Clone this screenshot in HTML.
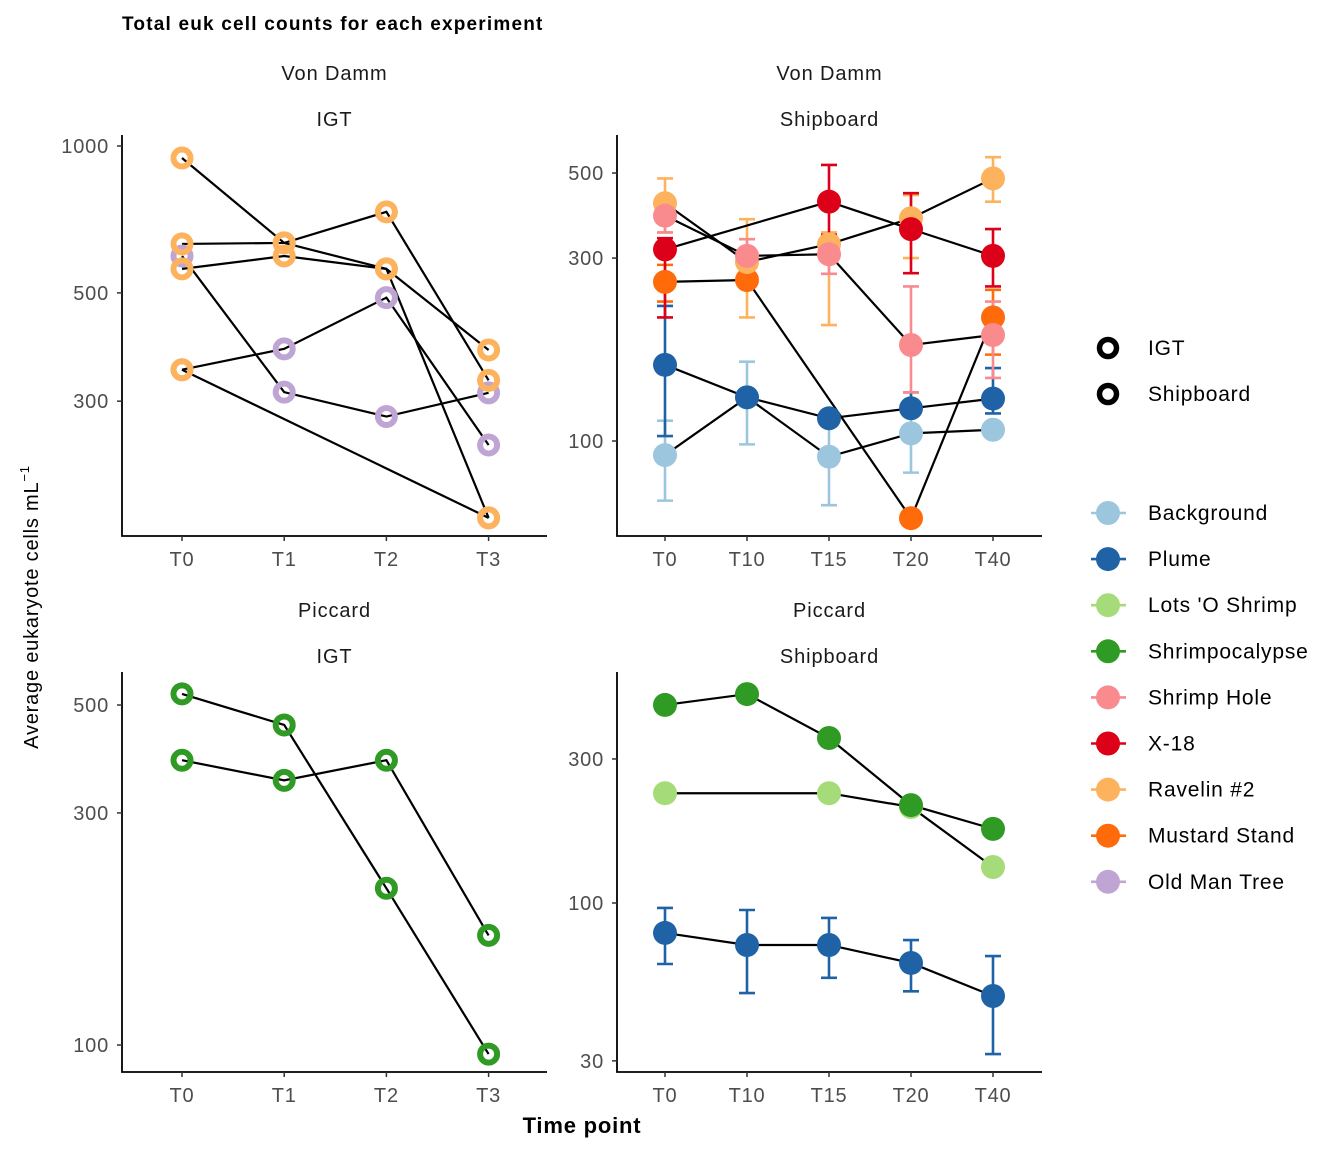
<!DOCTYPE html>
<html><head><meta charset="utf-8"><style>
body{margin:0;background:#fff;}
svg{display:block;font-family:"Liberation Sans",Arial,sans-serif;}
</style></head><body>
<svg id="chart" width="1344" height="1152" viewBox="0 0 1344 1152">
<text x="122" y="30" font-size="19" font-weight="bold" letter-spacing="1.2">Total euk cell counts for each experiment</text>
<text transform="translate(38,607) rotate(-90)" text-anchor="middle" font-size="20" letter-spacing="0.8">Average eukaryote cells  mL<tspan dy="-9" font-size="13">−1</tspan></text>
<text x="582" y="1133" text-anchor="middle" font-size="22" font-weight="bold" letter-spacing="0.8">Time point</text>
<g id="panels"></g>
<g id="legend"></g>
</svg>
<script>
const colors = {"Background":"#9CC6DE","Plume":"#1F63A6","Lots 'O Shrimp":"#A6DB7A","Shrimpocalypse":"#2F9A24","Shrimp Hole":"#F98A8E","X-18":"#DC0019","Ravelin #2":"#FDB35D","Mustard Stand":"#FF6A0A","Old Man Tree":"#BFA5D3"};
const siteNames = ["Background","Plume","Lots 'O Shrimp","Shrimpocalypse","Shrimp Hole","X-18","Ravelin #2","Mustard Stand","Old Man Tree"];

// Panel 1: Von Damm IGT
const p1Times = ["T0","T1","T2","T3"];
const p1Ticks = [300,500,1000];
const p1Sites = ["Old Man Tree","Old Man Tree","Ravelin #2","Ravelin #2","Ravelin #2","Ravelin #2"];
const p1Values = [
 [595,313,279,312],
 [348,384,489,244],
 [945,633,560,382],
 [630,633,733,331],
 [560,595,560,173],
 [348,null,null,173]
];
// Panel 2: Von Damm Shipboard
const p2Times = ["T0","T10","T15","T20","T40"];
const p2Ticks = [100,300,500];
const p2Sites = ["Background","Plume","Mustard Stand","Ravelin #2","Shrimp Hole","X-18"];
const p2Values = [
 [91.9,130,91,104.7,107],
 [158,130,114.6,121.7,129],
 [260,263,null,62.9,210],
 [417,293,326,381,484],
 [387,304,307,178,189],
 [316,null,421,357,304]
];
const p2Lo = [
 [69.9,98,68,82.7,null],
 [103,null,null,null,118],
 [231,null,null,null,168],
 [350,210,200.6,300,421],
 [350,null,273,134,146],
 [210,null,345,274,253]
];
const p2Hi = [
 [113,161,113,134,null],
 [225,null,null,134,155],
 [288,null,null,null,248],
 [484,379,350,438,550],
 [420,336,340,253,231],
 [338,null,525,443,357]
];
// Panel 3: Piccard IGT
const p3Times = ["T0","T1","T2","T3"];
const p3Ticks = [100,300,500];
const p3Sites = ["Shrimpocalypse","Shrimpocalypse"];
const p3Values = [
 [527,455,210,95.8],
 [385,350,385,168]
];
// Panel 4: Piccard Shipboard
const p4Times = ["T0","T10","T15","T20","T40"];
const p4Ticks = [30,100,300];
const p4Sites = ["Lots 'O Shrimp","Shrimpocalypse","Plume"];
const p4Values = [
 [231,null,231,208,131.6],
 [453,492,352,211,176],
 [79.6,72.6,72.6,63.3,49.2]
];
const p4Lo = [[null,null,null,null,null],[null,null,null,null,null],[62.8,50.3,56.5,51,31.6]];
const p4Hi = [[null,null,null,null,null],[null,null,null,null,null],[96.3,94.8,89.2,75.4,66.7]];

const NS="http://www.w3.org/2000/svg";
function mk(tag,attrs,parent){const e=document.createElementNS(NS,tag);for(const k in attrs)e.setAttribute(k,attrs[k]);parent.appendChild(e);return e;}
const root=document.getElementById('panels');

function panel(cfg){
 const g=mk('g',{},root);
 
 
 const L=cfg.left,R=cfg.right,T=cfg.top,B=cfg.bottom;
 const xs=i=>cfg.x0+i*cfg.dx;
 const ys=v=>cfg.yRef-(Math.log10(v)-Math.log10(cfg.vRef))*cfg.ppd;
 const s1=mk('text',{x:(L+R)/2,y:T-55,'text-anchor':'middle','font-size':'20','letter-spacing':'0.9',fill:'#1a1a1a'},g);s1.textContent=cfg.strip1;
 
 
 const s2=mk('text',{x:(L+R)/2,y:T-9,'text-anchor':'middle','font-size':'20','letter-spacing':'0.9',fill:'#1a1a1a'},g);s2.textContent=cfg.strip2;
 
 
 const ax=mk('path',{d:`M${L},${T} V${B} H${R}`,stroke:'#000',fill:'none','stroke-width':'1.8'},g);
 
 
 cfg.ticks.forEach(t=>{
  const y=ys(t);
  mk('line',{x1:L-5,x2:L,y1:y,y2:y,stroke:'#333','stroke-width':'1.5'},g);
  const tx=mk('text',{x:L-13,y:y+7,'text-anchor':'end','font-size':'20','letter-spacing':'0.8',fill:'#4d4d4d'},g);tx.textContent=t;
  
  
 });
 cfg.times.forEach((t,i)=>{
  const x=xs(i);
  mk('line',{x1:x,x2:x,y1:B,y2:B+5,stroke:'#333','stroke-width':'1.5'},g);
  const tx=mk('text',{x:x,y:B+30,'text-anchor':'middle','font-size':'20','letter-spacing':'0.8',fill:'#4d4d4d'},g);tx.textContent=t;
  
  
 });
 if(cfg.lo){cfg.values.forEach((row,si)=>{row.forEach((v,i)=>{
  const lo=cfg.lo[si][i],hi=cfg.hi[si][i];if(lo==null&&hi==null)return;
  const x=xs(i),c=colors[cfg.sites[si]];
  const ya=ys(hi!=null?hi:v),yb=ys(lo!=null?lo:v);
  const eb=mk('path',{d:`M${x},${ya}V${yb}`+(hi!=null?`M${x-8},${ya}H${x+8}`:'')+(lo!=null?`M${x-8},${yb}H${x+8}`:''),stroke:c,'stroke-width':'2.6',fill:'none'},g);
  
  
 });});}
 cfg.values.forEach((row,si)=>{
  const pts=[];row.forEach((v,i)=>{if(v!=null)pts.push(xs(i)+','+ys(v));});
  const pl=mk('polyline',{points:pts.join(' '),stroke:'#000','stroke-width':'2.2',fill:'none'},g);
  
  
 });
 cfg.values.forEach((row,si)=>{row.forEach((v,i)=>{
  if(v==null)return;const c=colors[cfg.sites[si]];
  let p;
  if(cfg.ring){p=mk('circle',{cx:xs(i),cy:ys(v),r:'8.5',fill:'none',stroke:c,'stroke-width':'6'},g);}
  else{p=mk('circle',{cx:xs(i),cy:ys(v),r:'12',fill:c},g);}
  
  
 });});
}
panel({name:'panel-vondamm-igt',left:122,right:547,top:135,bottom:536,x0:182,dx:102.2,yRef:146,vRef:1000,ppd:488,ticks:p1Ticks,times:p1Times,sites:p1Sites,values:p1Values,ring:true,strip1:'Von Damm',strip2:'IGT'});
panel({name:'panel-vondamm-shipboard',left:617,right:1042,top:135,bottom:536,x0:665,dx:82,yRef:441,vRef:100,ppd:383.4,ticks:p2Ticks,times:p2Times,sites:p2Sites,values:p2Values,lo:p2Lo,hi:p2Hi,ring:false,strip1:'Von Damm',strip2:'Shipboard'});
panel({name:'panel-piccard-igt',left:122,right:547,top:672,bottom:1072,x0:182,dx:102.2,yRef:1045,vRef:100,ppd:486.4,ticks:p3Ticks,times:p3Times,sites:p3Sites,values:p3Values,ring:true,strip1:'Piccard',strip2:'IGT'});
panel({name:'panel-piccard-shipboard',left:617,right:1042,top:672,bottom:1072,x0:665,dx:82,yRef:903,vRef:100,ppd:301.9,ticks:p4Ticks,times:p4Times,sites:p4Sites,values:p4Values,lo:p4Lo,hi:p4Hi,ring:false,strip1:'Piccard',strip2:'Shipboard'});

const lg=document.getElementById('legend');
["IGT","Shipboard"].forEach((n,i)=>{
 const y=348+i*46;
 const c=mk('circle',{cx:1108,cy:y,r:'8.5',fill:'#fff',stroke:'#000','stroke-width':'5.5'},lg);
 
 
 const t=mk('text',{x:1148,y:y+7,'font-size':'21','letter-spacing':'0.8'},lg);t.textContent=n;
 
 
});
siteNames.forEach((n,i)=>{
 const y=513+i*46.1;
 const gg=mk('g',{},lg);
 
 
 mk('line',{x1:1091,x2:1126,y1:y,y2:y,stroke:colors[n],'stroke-width':'2.6'},gg);
 mk('circle',{cx:1108,cy:y,r:'12',fill:colors[n]},gg);
 const t=mk('text',{x:1148,y:y+7,'font-size':'21','letter-spacing':'0.8'},gg);t.textContent=n;
});
</script>
</body></html>
